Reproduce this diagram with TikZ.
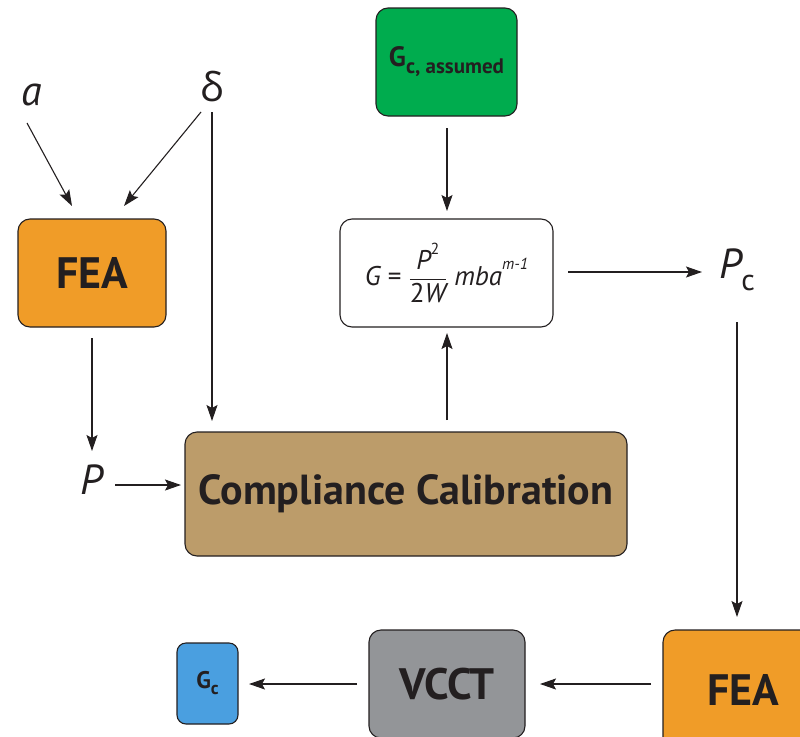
\documentclass[tikz,border=0pt]{standalone}
\usepackage{fontspec}
\setmainfont{PT Sans}
\newfontfamily\greekfont{Open Sans}
\usepackage{amsmath}
\usetikzlibrary{arrows.meta}
\definecolor{feaorange}{HTML}{F09C28}
\definecolor{ccbrown}{HTML}{BC9C6A}
\definecolor{gcgreen}{HTML}{00AC4E}
\definecolor{gcblue}{HTML}{4A9FE0}
\definecolor{vcgray}{HTML}{939598}
\definecolor{txt}{HTML}{231F20}
\tikzset{
  boxy/.style={draw=txt, line width=1.1pt, rounded corners=12pt, inner sep=0pt, text=txt},
  conn/.style={draw=txt, line width=1.1pt, -{Stealth[length=16pt,width=11pt,inset=3pt]}},
  var/.style={text=txt, inner sep=1pt, font=\fontsize{42}{46}\selectfont\itshape},
}
\begin{document}
\begin{tikzpicture}[x=1pt,y=-1pt]
\useasboundingbox (0,0) rectangle (800,736);
\clip (0,0) rectangle (800,736);
% boxes
\node[boxy, fill=gcgreen, minimum width=141pt, minimum height=108pt] (gca) at (446.5,62) {\fontsize{28}{30}\selectfont\bfseries G\raisebox{-0.25em}{\fontsize{21}{22}\selectfont c, assumed}};
\node[boxy, fill=white, minimum width=213pt, minimum height=108pt] (form) at (446.5,273) {\fontsize{27}{30}\selectfont\itshape G \upshape= $\dfrac{\text{\itshape P\raisebox{0.55em}{\fontsize{16}{17}\selectfont\upshape 2}}}{\text{2\itshape W}}$ \itshape mba\raisebox{0.6em}{\fontsize{16}{17}\selectfont m-1}};
\node[boxy, fill=feaorange, minimum width=148pt, minimum height=108pt] (fea1) at (92,273) {\fontsize{44}{48}\selectfont\bfseries FEA};
\node[boxy, fill=ccbrown, minimum width=442pt, minimum height=124pt] (cc) at (406,494) {\fontsize{42}{46}\selectfont\bfseries Compliance Calibration};
\node[boxy, fill=feaorange, minimum width=160pt, minimum height=120pt] (fea2) at (743,690) {\fontsize{44}{48}\selectfont\bfseries FEA\hspace{12pt}};
\node[boxy, fill=vcgray, minimum width=156pt, minimum height=108pt] (vcct) at (447,684) {\fontsize{44}{48}\selectfont\bfseries VCCT};
\node[boxy, fill=gcblue, rounded corners=9pt, minimum width=61pt, minimum height=81pt] (gc) at (207.5,683.5) {\fontsize{24}{26}\selectfont\bfseries G\raisebox{-0.25em}{\fontsize{18}{20}\selectfont c}};
% variables
\node[var] (a) at (32,95) {a};
\node[text=txt, inner sep=1pt, font=\fontsize{40}{44}\selectfont\greekfont] (d) at (212,87) {δ};
\node[var] (p) at (92,480) {P};
\node[var] (pc) at (737,270) {P\raisebox{-0.3em}{\fontsize{30}{32}\selectfont\upshape c}};
% connectors
\coordinate (a1) at (27,123);
\coordinate (a2) at (72,206);
\draw[conn] (a1) -- (a2);
\coordinate (d1) at (201,112);
\coordinate (d2) at (124,206);
\draw[conn] (d1) -- (d2);
\coordinate (d3) at (212,112);
\draw[conn] (d3) -- (212,421);
\draw[conn] (92,338) -- (92,451);
\draw[conn] (115,485) -- (181,485);
\draw[conn] (447,420) -- (447,333);
\draw[conn] (447,128) -- (447,211);
\draw[conn] (568,272) -- (702,272);
\draw[conn] (737,322) -- (737,617);
\draw[conn] (651,684) -- (540,684);
\draw[conn] (357,684) -- (249,684);
\end{tikzpicture}
\end{document}
